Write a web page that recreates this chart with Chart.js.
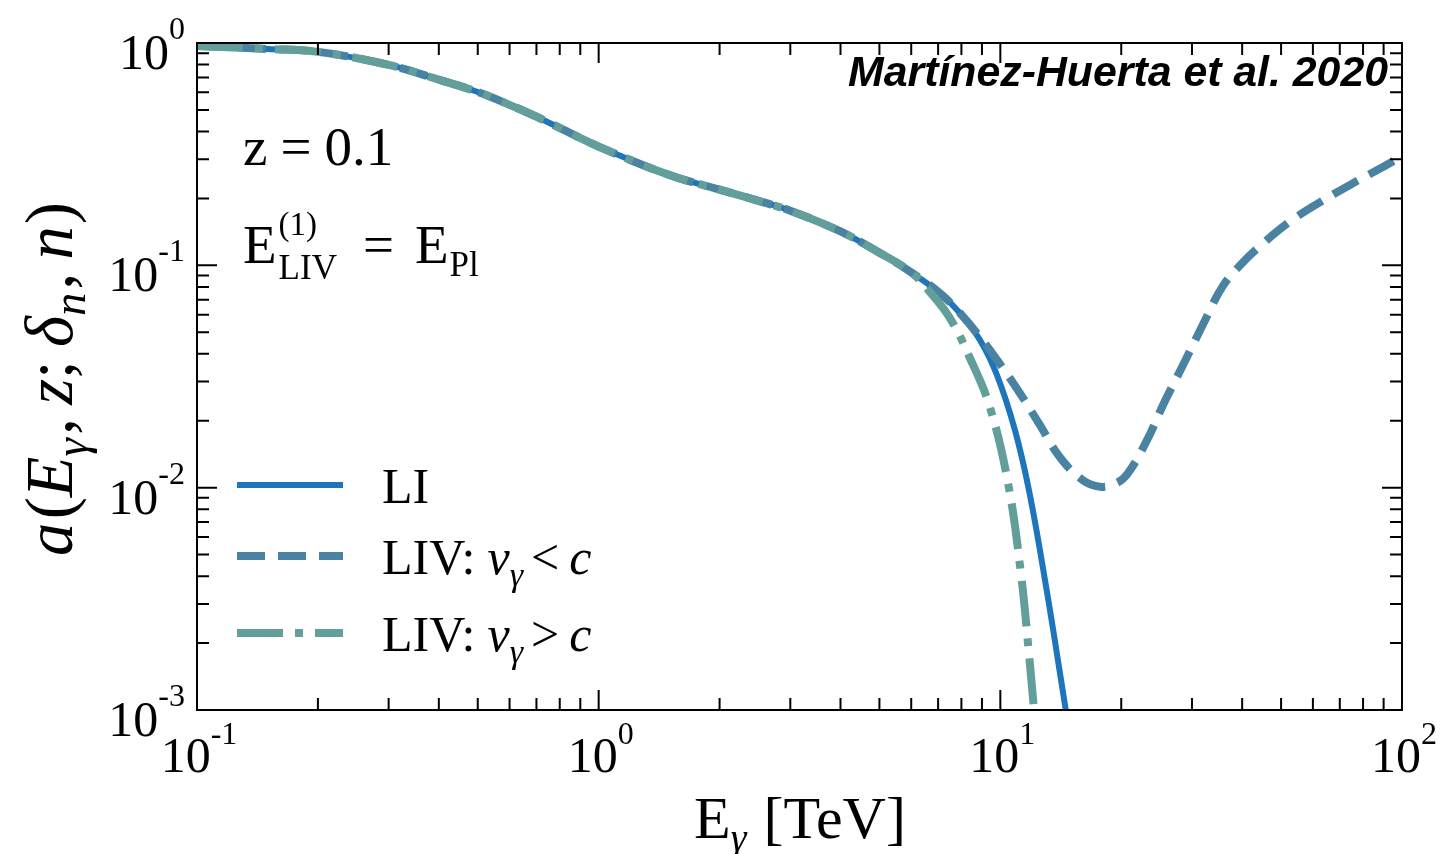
<!DOCTYPE html>
<html>
<head>
<meta charset="utf-8">
<script src="https://cdn.jsdelivr.net/npm/chart.js@4.4.0/dist/chart.umd.min.js"></script>
<style>
  html, body { margin: 0; padding: 0; background: #fff; }
</style>
</head>
<body>
<canvas id="my-chart" width="1449" height="854"></canvas>
<script>
// attenuation factor a(E, z; delta_n, n) for z = 0.1
// all three curves coincide below ~6 TeV
const sharedE = [0.1, 0.15, 0.2, 0.3, 0.4, 0.5, 0.6, 0.7, 0.8, 1.0, 1.5, 2, 2.5, 3, 4, 5, 6];
const sharedA = [0.97, 0.94, 0.912, 0.797, 0.684, 0.602, 0.527, 0.466, 0.415, 0.342, 0.255, 0.219, 0.195, 0.176, 0.142, 0.114, 0.093];

// Lorentz invariant
const liE = [7.07, 7.93, 8.9, 9.81, 10.87, 11.85, 13.14, 13.91, 14.55];
const liA = [0.075, 0.061, 0.0461, 0.0321, 0.0182, 0.00926, 0.00319, 0.00168, 0.001];

// LIV, subluminal
const subE = [7.07, 7.93, 8.9, 9.98, 11.19, 12.55, 14.07, 16.05, 17.7, 19.3, 20.7, 23.2, 25.4, 28.5, 31.9, 35.8, 40.2, 45.1, 52.0, 61.8, 74.2, 89.6, 100];
const subA = [0.075, 0.061, 0.0476, 0.036, 0.0266, 0.0191, 0.0137, 0.0108, 0.0101, 0.0104, 0.0115, 0.0164, 0.0235, 0.0356, 0.0539, 0.0806, 0.1032, 0.1255, 0.155, 0.19, 0.23, 0.277, 0.31];

// LIV, superluminal
const supE = [6.68, 7.49, 8.4, 9.42, 10.45, 11.25, 11.78, 12.13];
const supA = [0.0758, 0.0579, 0.0383, 0.023, 0.0105, 0.00413, 0.0018, 0.001];

const xDecades = [-1, 0, 1, 2];
const yDecades = [0, -1, -2, -3];

const SERIF = '"Liberation Serif", "DejaVu Serif", serif';
const rm = s => s + 'px ' + SERIF;
const it = s => 'italic ' + s + 'px ' + SERIF;

function toPoints(es, as) {
    return es.map((e, i) => ({ x: e, y: as[i] }));
}

function runsWidth(ctx, runs) {
    let w = 0;
    runs.forEach(r => {
        ctx.font = r.f;
        w += ctx.measureText(r.t).width + (r.gap || 0);
    });
    return w;
}

function drawRuns(ctx, x, y, runs, align) {
    const w = runsWidth(ctx, runs);
    let cx = align === 'right' ? x - w : align === 'center' ? x - w / 2 : x;
    ctx.textAlign = 'left';
    ctx.textBaseline = 'alphabetic';
    runs.forEach(r => {
        cx += r.gap || 0;
        ctx.font = r.f;
        ctx.fillText(r.t, cx, y + (r.dy || 0));
        cx += ctx.measureText(r.t).width;
    });
    return cx;
}

const dashSub = [28, 13];
const dashSup = [46, 12, 8, 12];

const axesAndText = {
    id: 'axesAndText',
    afterDatasetsDraw(chart) {
        const ctx = chart.ctx;
        const xs = chart.scales.x, ys = chart.scales.y;
        const a = chart.chartArea;
        ctx.save();
        ctx.fillStyle = '#000';
        ctx.strokeStyle = '#000';

        // frame
        ctx.lineWidth = 2;
        ctx.strokeRect(a.left, a.top, a.right - a.left, a.bottom - a.top);

        // inward ticks on all four sides
        const major = 20, minor = 12;
        ctx.beginPath();
        xDecades.forEach(p => {
            const base = Math.pow(10, p);
            for (let k = 1; k <= 9; k++) {
                const v = base * k;
                if (v > 100 + 1e-9) break;
                const px = xs.getPixelForValue(v);
                const len = k === 1 ? major : minor;
                ctx.moveTo(px, a.bottom); ctx.lineTo(px, a.bottom - len);
                ctx.moveTo(px, a.top); ctx.lineTo(px, a.top + len);
            }
        });
        yDecades.forEach(p => {
            const base = Math.pow(10, p);
            for (let k = 1; k <= 9; k++) {
                const v = base * k;
                if (v > 1 + 1e-9) break;
                const py = ys.getPixelForValue(v);
                const len = k === 1 ? major : minor;
                ctx.moveTo(a.left, py); ctx.lineTo(a.left + len, py);
                ctx.moveTo(a.right, py); ctx.lineTo(a.right - len, py);
            }
        });
        ctx.stroke();

        // decade labels
        xDecades.forEach(p => {
            const px = xs.getPixelForValue(Math.pow(10, p));
            drawRuns(ctx, px + 2, a.bottom + 62, [
                { t: '10', f: rm(50) },
                { t: String(p), f: rm(32), dy: -28 }
            ], 'center');
        });
        yDecades.forEach(p => {
            const py = ys.getPixelForValue(Math.pow(10, p));
            drawRuns(ctx, a.left - 12, py + 26, [
                { t: '10', f: rm(50) },
                { t: String(p), f: rm(32), dy: -30 }
            ], 'right');
        });

        // x title
        drawRuns(ctx, 800, 838, [
            { t: 'E', f: rm(60) },
            { t: 'γ', f: it(40), dy: 13 },
            { t: ' [TeV]', f: rm(60), gap: 2 }
        ], 'center');

        // y title, rotated
        let S = 58;
        const yRuns = s => [
            { t: 'a', f: it(s) },
            { t: '(', f: rm(s), gap: s * 0.05 },
            { t: 'E', f: it(s) },
            { t: 'γ', f: it(s * 0.7), dy: s * 0.22 },
            { t: ',', f: rm(s), gap: s * 0.05 },
            { t: 'z', f: it(s), gap: s * 0.2 },
            { t: ';', f: rm(s) },
            { t: 'δ', f: it(s), gap: s * 0.2 },
            { t: 'n', f: it(s * 0.7), dy: s * 0.2 },
            { t: ',', f: rm(s), gap: s * 0.05 },
            { t: 'n', f: it(s), gap: s * 0.2 },
            { t: ')', f: rm(s), gap: s * 0.03 }
        ];
        S = S * 354 / runsWidth(ctx, yRuns(S));
        ctx.save();
        ctx.translate(72, 556);
        ctx.rotate(-Math.PI / 2);
        drawRuns(ctx, 0, 0, yRuns(S), 'left');
        ctx.restore();

        // annotations inside the frame
        drawRuns(ctx, 243, 165, [
            { t: 'z', f: rm(55) },
            { t: '=', f: rm(55), gap: 13 },
            { t: '0.1', f: rm(55), gap: 13 }
        ], 'left');

        ctx.textAlign = 'left';
        ctx.font = rm(55);
        ctx.fillText('E', 243, 263);
        const eW = ctx.measureText('E').width;
        ctx.font = rm(33);
        ctx.fillText('(1)', 243 + eW + 2, 235);
        ctx.font = rm(35);
        ctx.fillText('LIV', 243 + eW + 2, 279);
        ctx.font = rm(55);
        ctx.fillText('=', 363, 263);
        ctx.fillText('E', 415, 263);
        ctx.font = rm(35);
        ctx.fillText('Pl', 415 + eW + 1, 276);

        // credit
        let cs = 38;
        const credit = 'Martínez-Huerta et al. 2020';
        ctx.font = 'italic bold ' + cs + 'px "Liberation Sans", Arial, sans-serif';
        cs = cs * 540 / ctx.measureText(credit).width;
        ctx.font = 'italic bold ' + cs + 'px "Liberation Sans", Arial, sans-serif';
        ctx.textAlign = 'right';
        ctx.fillText(credit, 1388, 86);

        // legend
        const rows = [485, 556, 633];
        const texts = [
            [{ t: 'LI', f: rm(50) }],
            [{ t: 'LIV:', f: rm(50) }, { t: 'v', f: it(50), gap: 12 }, { t: 'γ', f: it(34), dy: 12 },
             { t: '<', f: rm(50), gap: 8 }, { t: 'c', f: it(50), gap: 10 }],
            [{ t: 'LIV:', f: rm(50) }, { t: 'v', f: it(50), gap: 12 }, { t: 'γ', f: it(34), dy: 12 },
             { t: '>', f: rm(50), gap: 8 }, { t: 'c', f: it(50), gap: 10 }]
        ];
        chart.data.datasets.forEach((ds, i) => {
            const y = rows[i];
            ctx.save();
            ctx.strokeStyle = ds.borderColor;
            ctx.lineWidth = ds.borderWidth;
            ctx.setLineDash(ds.borderDash || []);
            ctx.beginPath();
            ctx.moveTo(237, y);
            ctx.lineTo(343, y);
            ctx.stroke();
            ctx.restore();
            ctx.fillStyle = '#000';
            drawRuns(ctx, 382, y + 18, texts[i], 'left');
        });

        ctx.restore();
    }
};

const ctx = document.getElementById('my-chart').getContext('2d');

const myChart = new Chart(ctx, {
    type: 'line',
    data: {
        datasets: [
            {
                label: 'LI',
                data: toPoints(sharedE.concat(liE), sharedA.concat(liA)),
                borderColor: '#1e75bb',
                borderWidth: 6,
                order: 3,
            },
            {
                label: 'LIV: v < c',
                data: toPoints(sharedE.concat(subE), sharedA.concat(subA)),
                borderColor: '#4a83a2',
                borderWidth: 8,
                borderDash: dashSub,
                order: 2,
            },
            {
                label: 'LIV: v > c',
                data: toPoints(sharedE.concat(supE), sharedA.concat(supA)),
                borderColor: '#629f9a',
                borderWidth: 8,
                borderDash: dashSup,
                order: 1,
            },
        ],
    },
    options: {
        responsive: false,
        animation: false,
        devicePixelRatio: 1,
        layout: {
            padding: { left: 197, top: 43, right: 47, bottom: 144 },
        },
        elements: {
            point: { radius: 0 },
            line: { tension: 0.4, fill: false, borderCapStyle: 'butt' },
        },
        scales: {
            x: { type: 'logarithmic', min: 0.1, max: 100, display: false },
            y: { type: 'logarithmic', min: 0.001, max: 1, display: false },
        },
        plugins: {
            legend: { display: false },
            tooltip: { enabled: false },
        },
    },
    plugins: [axesAndText],
});
</script>
</body>
</html>
